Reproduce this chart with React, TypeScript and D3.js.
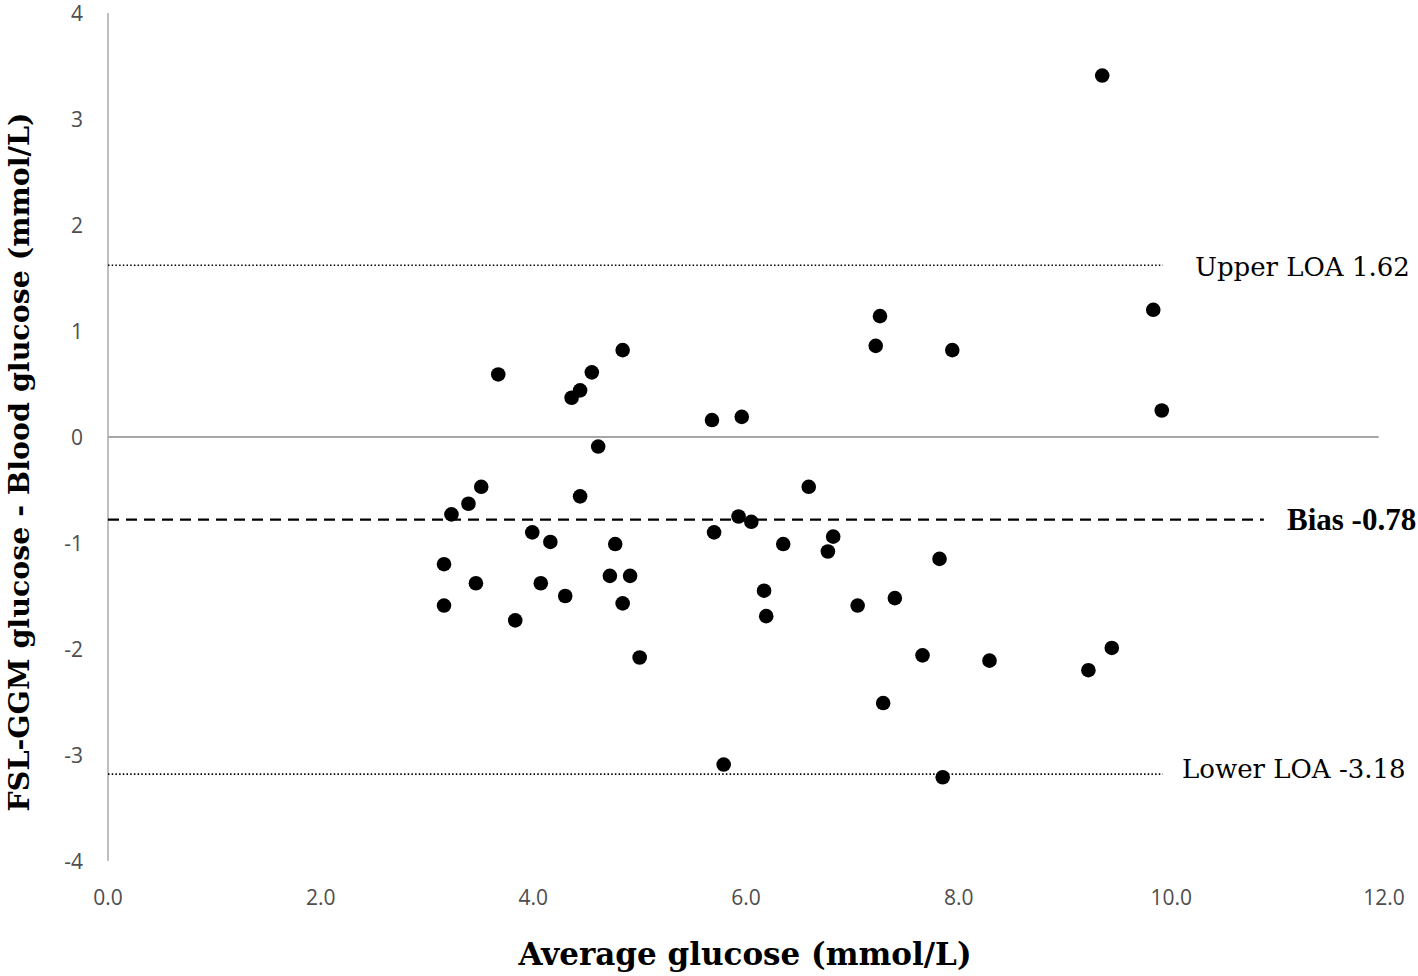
import React, { useEffect, useRef } from 'react';
import * as d3 from 'd3';

// Bland-Altman: mean of the two methods vs difference (FSL-GGM minus blood)
const avgGlucose = [
  3.67, 4.84, 4.55, 4.44, 4.36, 4.61, 3.51, 3.39, 3.23, 4.44, 3.99, 4.16, 4.77, 3.16, 4.72, 4.91,
  3.46, 4.07, 4.3, 3.16, 4.84, 3.83, 5.0,
  7.26, 7.22, 7.94, 5.68, 5.96, 6.59, 5.93, 6.05, 5.7, 6.35, 6.82, 6.77, 7.82, 6.17, 6.19, 7.05,
  7.4, 7.66, 8.29, 7.29, 5.79, 7.85,
  9.35, 9.83, 9.91, 9.44, 9.22,
];
const diffGlucose = [
  0.59, 0.82, 0.61, 0.44, 0.37, -0.09, -0.47, -0.63, -0.73, -0.56, -0.9, -0.99, -1.01, -1.2, -1.31, -1.31,
  -1.38, -1.38, -1.5, -1.59, -1.57, -1.73, -2.08,
  1.14, 0.86, 0.82, 0.16, 0.19, -0.47, -0.75, -0.8, -0.9, -1.01, -0.94, -1.08, -1.15, -1.45, -1.69, -1.59,
  -1.52, -2.06, -2.11, -2.51, -3.09, -3.21,
  3.41, 1.2, 0.25, -1.99, -2.2,
];

const xTicks = [0, 2, 4, 6, 8, 10, 12];
const yTicks = [4, 3, 2, 1, 0, -1, -2, -3, -4];

const bias = -0.78;
const upperLoa = 1.62;
const lowerLoa = -3.18;
const loaLineEnd = 9.92;
const biasLineEnd = 10.87;
const zeroLineEnd = 11.95;

const W = 1418;
const H = 976;
const SERIF = '"DejaVu Serif", "Liberation Serif", serif';
const TIMES = '"Liberation Serif", serif';
const SANS = '"Open Sans", "Liberation Sans", sans-serif';

export default function App() {
  const ref = useRef<SVGSVGElement | null>(null);

  useEffect(() => {
    const svg = d3.select(ref.current);
    svg.selectAll('*').remove();

    const x = d3.scaleLinear().domain([0, 12]).range([108, 1384]);
    const y = d3.scaleLinear().domain([-4, 4]).range([861, 13]);

    const g = svg.append('g');

    // y axis line
    g.append('line')
      .attr('x1', x(0)).attr('x2', x(0))
      .attr('y1', y(4)).attr('y2', y(-4))
      .attr('stroke', '#bfbfbf').attr('stroke-width', 2);

    // zero line
    g.append('line')
      .attr('x1', x(0)).attr('x2', x(zeroLineEnd))
      .attr('y1', y(0)).attr('y2', y(0))
      .attr('stroke', '#a6a6a6').attr('stroke-width', 2);

    // limits of agreement (dotted)
    [upperLoa, lowerLoa].forEach((v) => {
      g.append('line')
        .attr('x1', x(0)).attr('x2', x(loaLineEnd))
        .attr('y1', y(v)).attr('y2', y(v))
        .attr('stroke', '#000').attr('stroke-width', 1.6)
        .attr('stroke-dasharray', '1.5,2.2');
    });

    // bias (dashed)
    g.append('line')
      .attr('x1', x(0)).attr('x2', x(biasLineEnd))
      .attr('y1', y(bias)).attr('y2', y(bias))
      .attr('stroke', '#000').attr('stroke-width', 2.2)
      .attr('stroke-dasharray', '11,7');

    // tick labels (plain hyphen minus, as in the original)
    yTicks.forEach((t) => {
      g.append('text')
        .attr('x', 83).attr('y', y(t))
        .attr('text-anchor', 'end').attr('dominant-baseline', 'central')
        .attr('fill', '#4d4d4d').attr('font-size', 21).attr('font-family', SANS)
        .text(String(t));
    });
    xTicks.forEach((t) => {
      g.append('text')
        .attr('x', x(t)).attr('y', 897)
        .attr('text-anchor', 'middle').attr('dominant-baseline', 'central')
        .attr('fill', '#4d4d4d').attr('font-size', 21).attr('font-family', SANS)
        .text(t.toFixed(1));
    });

    // points
    g.selectAll('circle.pt')
      .data(avgGlucose.map((a, i) => [a, diffGlucose[i]]))
      .join('circle')
      .attr('class', 'pt')
      .attr('cx', (d) => x(d[0]))
      .attr('cy', (d) => y(d[1]))
      .attr('r', 7.3)
      .attr('fill', '#000');

    // line labels
    g.append('text')
      .attr('x', 1195).attr('y', y(upperLoa) + 2)
      .attr('dominant-baseline', 'central')
      .attr('font-size', 26).attr('font-family', SERIF)
      .text(`Upper LOA ${upperLoa}`);
    g.append('text')
      .attr('x', 1287).attr('y', y(bias))
      .attr('dominant-baseline', 'central')
      .attr('font-size', 31).attr('font-weight', 'bold').attr('font-family', TIMES)
      .text(`Bias ${bias}`);
    g.append('text')
      .attr('x', 1182).attr('y', y(lowerLoa) - 5)
      .attr('dominant-baseline', 'central')
      .attr('font-size', 26).attr('font-family', SERIF)
      .text(`Lower LOA ${lowerLoa}`);

    // axis titles
    g.append('text')
      .attr('x', 745).attr('y', 965)
      .attr('text-anchor', 'middle')
      .attr('font-size', 31).attr('font-weight', 'bold').attr('font-family', SERIF)
      .text('Average glucose (mmol/L)');
    g.append('text')
      .attr('transform', `translate(29,462) rotate(-90)`)
      .attr('text-anchor', 'middle')
      .attr('font-size', 28.5).attr('font-weight', 'bold').attr('font-family', SERIF)
      .text('FSL-GGM glucose - Blood glucose (mmol/L)');
  }, []);

  return (
    <svg
      ref={ref}
      width={W}
      height={H}
      style={{ position: 'absolute', left: 0, top: 0, background: '#fff' }}
    />
  );
}
